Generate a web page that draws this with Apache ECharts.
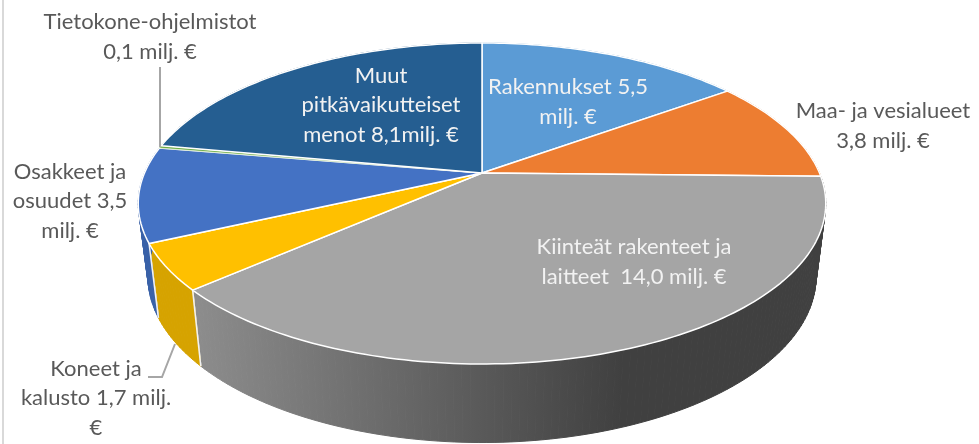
<!DOCTYPE html>
<html>
<head>
<meta charset="utf-8">
<title>Pitkäaikaiset varat</title>
<script src="https://cdn.jsdelivr.net/npm/echarts@6/dist/echarts.min.js"></script>
<style>
  html, body { margin: 0; padding: 0; background: #fff; }
  #chart { width: 979px; height: 444px; }
</style>
</head>
<body>
<div id="chart"></div>
<script>
// values in milj. €, clockwise from 12 o'clock
const categories = ['Rakennukset', 'Maa- ja vesialueet', 'Kiinteät rakenteet ja laitteet', 'Koneet ja kalusto', 'Osakkeet ja osuudet', 'Tietokone-ohjelmistot', 'Muut pitkävaikutteiset menot'];
const values = [5.5, 3.8, 14.0, 1.7, 3.5, 0.1, 8.1];
const labels = [
  'Rakennukset 5,5\nmilj. €',
  'Maa- ja vesialueet\n3,8 milj. €',
  'Kiinteät rakenteet ja\nlaitteet  14,0 milj. €',
  'Koneet ja\nkalusto 1,7 milj.\n€',
  'Osakkeet ja\nosuudet 3,5\nmilj. €',
  'Tietokone-ohjelmistot\n0,1 milj. €',
  'Muut\npitkävaikutteiset\nmenot 8,1milj. €'
];

const topColors = ['#5B9BD5', '#ED7D31', '#A5A5A5', '#FFC000', '#4472C4', '#70AD47', '#255E91'];
const wallColors = ['#4A84B8', '#C96A29', null, '#D6A300', '#3A62A8', '#5F933C', '#1F4F7B'];
const labelAnchors = [[568, 102], [883, 126], [634, 262], [96, 398], [70, 201], [150, 37], [381, 105]];
const labelFill = ['#F2F2F2', '#595959', '#F2F2F2', '#595959', '#595959', '#595959', '#F2F2F2'];
const leaderLines = [
  [[160, 67], [160, 147]],
  [[175, 344], [162, 377], [148, 377]]
];

// perspective projection of the pie disc, fitted to the picture
const CX = 482, K = 0.19;
const TOP = { rx: 337.5, ry: 154.7, cy: 173 };
const BOTTOM = { rx: 328, ry: 160, cy: 245 };

const total = values.reduce((a, b) => a + b, 0);
const startAngles = [];
values.reduce((acc, v, i) => {
  startAngles[i] = acc / total * 2 * Math.PI;
  return acc + v;
}, 0);

function project(plane, theta) {
  const X = Math.sin(theta), Y = Math.cos(theta);
  const d = 1 + K * Y;
  return [CX + plane.rx * X / d, plane.cy - plane.ry * Y / d];
}

function arcPoints(plane, a0, a1) {
  const steps = Math.max(2, Math.ceil((a1 - a0) / 0.02));
  const pts = [];
  for (let i = 0; i <= steps; i++) pts.push(project(plane, a0 + (a1 - a0) * i / steps));
  return pts;
}

function sliceRange(i) {
  return [startAngles[i], startAngles[i] + values[i] / total * 2 * Math.PI];
}

function wallFill(i) {
  if (i === 2) {
    return {
      type: 'linear', global: true, x: 200, y: 0, x2: 622, y2: 0,
      colorStops: [{ offset: 0, color: '#8C8C8C' }, { offset: 1, color: '#404040' }]
    };
  }
  return wallColors[i];
}

function renderWall(params) {
  const i = params.dataIndex;
  const [a0, a1] = sliceRange(i);
  const t = arcPoints(TOP, a0, a1), b = arcPoints(BOTTOM, a0, a1);
  const fill = wallFill(i);
  const children = [];
  for (let s = 0; s < t.length - 1; s++) {
    children.push({
      type: 'polygon',
      shape: { points: [t[s], t[s + 1], b[s + 1], b[s]] },
      style: { fill: fill, stroke: fill, lineWidth: 1 }
    });
  }
  // white seams on the front of the drum
  [a0, a1].forEach(function (a) {
    if (Math.cos(a) < -0.1) {
      const p = project(TOP, a), q = project(BOTTOM, a);
      children.push({
        type: 'line',
        shape: { x1: p[0], y1: p[1], x2: q[0], y2: q[1] },
        style: { stroke: '#F2F2F2', lineWidth: 1.5 }
      });
    }
  });
  return { type: 'group', children: children };
}

function renderTop(params) {
  const i = params.dataIndex;
  const [a0, a1] = sliceRange(i);
  const pts = [[CX, TOP.cy]].concat(arcPoints(TOP, a0, a1));
  return {
    type: 'polygon',
    shape: { points: pts },
    style: {
      fill: topColors[i],
      stroke: i === 5 ? '#DDEBD3' : '#FFFFFF',  // the sliver would vanish under a white edge
      lineWidth: i === 5 ? 0.8 : 1.5,
      lineJoin: 'round'
    }
  };
}

function renderLabel(params) {
  const i = params.dataIndex;
  return {
    type: 'text',
    style: {
      text: labels[i],
      x: labelAnchors[i][0],
      y: labelAnchors[i][1],
      align: 'center',
      verticalAlign: 'middle',
      font: '22px Lato, "Open Sans", sans-serif',
      lineHeight: 29.5,
      fill: labelFill[i]
    }
  };
}

const sliceData = values.map(function (v, i) { return { name: categories[i], value: v }; });

const chart = echarts.init(document.getElementById('chart'), null, { renderer: 'canvas' });
chart.setOption({
  animation: false,
  backgroundColor: '#FFFFFF',
  graphic: [
    {
      type: 'line', z: 0,
      shape: { x1: 3, y1: 0, x2: 3, y2: 444 },
      style: { stroke: '#D9D9D9', lineWidth: 2 }
    }
  ].concat(leaderLines.map(function (pts) {
    return {
      type: 'polyline', z: 10,
      shape: { points: pts },
      style: { stroke: '#A6A6A6', lineWidth: 2, fill: null }
    };
  })),
  series: [
    { type: 'custom', coordinateSystem: 'none', z: 1, silent: true, data: sliceData, renderItem: renderWall },
    { type: 'custom', coordinateSystem: 'none', z: 2, silent: true, data: sliceData, renderItem: renderTop },
    { type: 'custom', coordinateSystem: 'none', z: 3, silent: true, data: sliceData, renderItem: renderLabel }
  ]
});
</script>
</body>
</html>
